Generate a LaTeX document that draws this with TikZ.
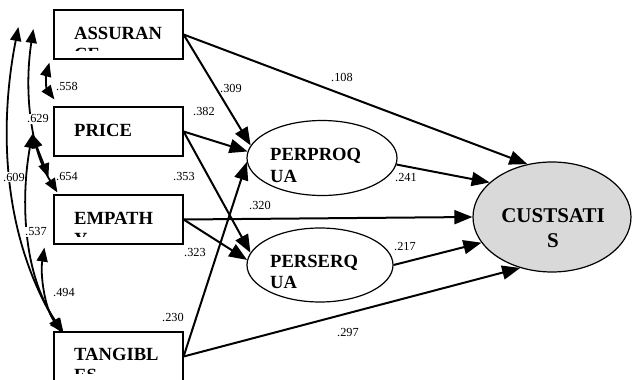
\documentclass[tikz,border=0pt]{standalone}
\usepackage{fontspec}
\setmainfont{Liberation Serif}
\usetikzlibrary{arrows.meta,shapes.geometric}
\definecolor{csgray}{RGB}{217,217,217}
\begin{document}
\begin{tikzpicture}[x=1pt,y=-1pt,
  obsbox/.style={draw, line width=1.2pt, rectangle, minimum width=129pt, minimum height=49pt, inner sep=0pt},
  latent/.style={draw, line width=1.2pt, ellipse, inner sep=0pt},
  vname/.style={font=\fontsize{18.6}{21}\selectfont\bfseries, inner sep=0pt},
  csname/.style={font=\fontsize{21}{24}\selectfont\bfseries, inner sep=0pt},
  coef/.style={font=\fontsize{12.3}{14}\selectfont, inner sep=0.6pt},
  coefw/.style={coef, fill=white},
  effect/.style={line width=2pt, -{Triangle[length=18pt,width=14pt]}},
  cov/.style={line width=1.8pt, {Triangle[length=14pt,width=11pt]}-{Triangle[length=14pt,width=11pt]}},
]
\useasboundingbox (0,0) rectangle (632,380);

% observed variables (text clipped as in the original)
\begin{scope}
\clip (54,10) rectangle (183,50.5);
\node[vname, anchor=base west] (At1) at (74,39) {ASSURAN};
\node[vname, anchor=base west] (At2) at (74,60) {CE};
\end{scope}
\node[vname, anchor=base west] (Pt1) at (74,136) {PRICE};
\begin{scope}
\clip (54,195) rectangle (183,236);
\node[vname, anchor=base west] (Et1) at (74,224) {EMPATH};
\node[vname, anchor=base west] (Et2) at (74,245) {Y};
\end{scope}
\begin{scope}
\clip (54,332) rectangle (183,373);
\node[vname, anchor=base west] (Tt1) at (74,360) {TANGIBL};
\node[vname, anchor=base west] (Tt2) at (74,381) {ES};
\end{scope}

\node[obsbox] (A) at (118.5,34.5) {};
\node[obsbox] (P) at (118.5,131.5) {};
\node[obsbox] (E) at (118.5,219.5) {};
\node[obsbox] (T) at (118.5,356.5) {};

% latent variables
\node[latent, minimum width=150pt, minimum height=75pt] (PP) at (322,158) {};
\node[latent, minimum width=146pt, minimum height=74pt] (PS) at (320,265) {};
\node[latent, fill=csgray, minimum width=158pt, minimum height=110pt] (CS) at (552,217) {};

\node[vname, anchor=base west] (PPt1) at (270,160) {PERPROQ};
\node[vname, anchor=base west] (PPt2) at (270,182) {UA};
\node[vname, anchor=base west] (PSt1) at (270,267) {PERSERQ};
\node[vname, anchor=base west] (PSt2) at (270,288) {UA};
\node[csname, anchor=base] (CSt1) at (553,222) {CUSTSATI};
\node[csname, anchor=base] (CSt2) at (553,247) {S};

% structural paths
\draw[effect] (A.east) -- (CS.115);
\draw[effect] (A.east) -- (PP.170);
\draw[effect] (P.east) -- (PP.175);
\draw[effect] (P.east) -- (PS.170);
\draw[effect] (E.east) -- (CS.west);
\draw[effect] (E.east) -- (PS.176);
\draw[effect] (T.east) -- (PP.183);
\draw[effect] (T.east) -- (CS.238);
\draw[effect] (PP.-5) -- (CS.151);
\draw[effect] (PS.east) -- (CS.200);

% covariances
\draw[cov] ([shift={(-4,3)}]A.south west) .. controls (46,75) and (46,88) .. ([shift={(1,-7)}]P.north west);
\draw[cov] ([shift={(-20,-5.5)}]A.west) .. controls (24,90) and (30,148) .. ([shift={(4,-2)}]E.north west);
\draw[cov] ([shift={(-35,-7.5)}]A.west) .. controls (0,120) and (0,230) .. ([shift={(8,1)}]T.north west);
\draw[cov] ([shift={(-21,2.5)}]P.west) .. controls (38,150) and (44,165) .. ([shift={(-5,-17)}]E.north west);
\draw[cov] ([shift={(-21,2.5)}]P.west) .. controls (22,190) and (20,270) .. ([shift={(10,1)}]T.north west);
\draw[cov] ([shift={(-9,3)}]E.south west) .. controls (40,275) and (45,310) .. ([shift={(10,1)}]T.north west);

% coefficients
\node[coef] (c558) at (67,86) {.558};
\node[coefw] (c629) at (38,119) {.629};
\node[coefw] (c609) at (14,177) {.609};
\node[coef] (c654) at (67,177) {.654};
\node[coefw] (c537) at (36,232) {.537};
\node[coef] (c494) at (64,293) {.494};
\node[coef] (c382) at (204,111) {.382};
\node[coef] (c353) at (184,177) {.353};
\node[coef] (c309) at (231,88) {.309};
\node[coef] (c108) at (342,77) {.108};
\node[coef] (c241) at (406,178) {.241};
\node[coef] (c320) at (260,205) {.320};
\node[coef] (c217) at (405,247) {.217};
\node[coef] (c323) at (195,253) {.323};
\node[coef] (c230) at (173,317) {.230};
\node[coef] (c297) at (348,333) {.297};
\end{tikzpicture}
\end{document}
